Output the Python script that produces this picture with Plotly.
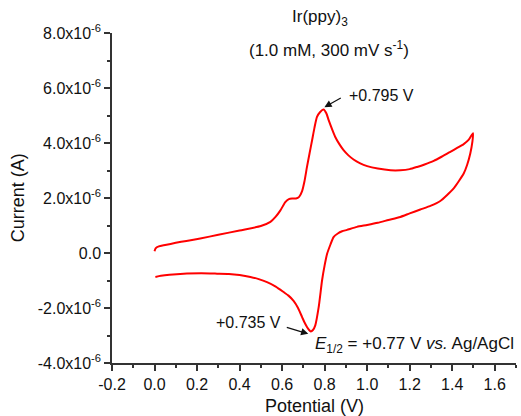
import plotly.graph_objects as go

# Anodic sweep, 0 V -> +1.5 V (potential in V, current in uA)
fwd_potential = [0.0, 0.005, 0.02, 0.05, 0.10, 0.15, 0.215, 0.30, 0.40, 0.50,
                 0.545, 0.57, 0.592, 0.615, 0.632, 0.647, 0.665, 0.68, 0.694, 0.705,
                 0.717, 0.729, 0.741, 0.752, 0.764, 0.778, 0.795, 0.808, 0.819, 0.834,
                 0.85, 0.87, 0.889, 0.912, 0.936, 0.965, 1.0, 1.05, 1.11, 1.156,
                 1.2, 1.235, 1.27, 1.313, 1.35, 1.391, 1.425, 1.454, 1.478, 1.498]
fwd_current = [0.06, 0.17, 0.24, 0.29, 0.37, 0.44, 0.53, 0.66, 0.82, 0.98,
               1.13, 1.32, 1.55, 1.85, 1.96, 1.98, 1.98, 2.04, 2.25, 2.6,
               3.13, 3.62, 4.10, 4.55, 4.95, 5.12, 5.22, 5.08, 4.83, 4.52,
               4.22, 3.95, 3.74, 3.55, 3.40, 3.27, 3.16, 3.07, 3.01, 3.01,
               3.05, 3.13, 3.22, 3.35, 3.50, 3.68, 3.83, 3.96, 4.12, 4.36]

# Cathodic sweep, +1.5 V -> 0 V
rev_potential = [1.495, 1.485, 1.47, 1.454, 1.43, 1.407, 1.375, 1.344, 1.30, 1.25,
                 1.20, 1.156, 1.10, 1.05, 1.0, 0.952, 0.905, 0.882, 0.862, 0.842,
                 0.827, 0.812, 0.80, 0.788, 0.772, 0.756, 0.745, 0.735, 0.727, 0.717,
                 0.705, 0.694, 0.675, 0.654, 0.63, 0.607, 0.57, 0.529, 0.49, 0.451,
                 0.40, 0.35, 0.294, 0.22, 0.137, 0.07, 0.03, 0.004]
rev_current = [4.05, 3.62, 3.2, 2.89, 2.6, 2.35, 2.1, 1.89, 1.72, 1.58,
               1.44, 1.31, 1.20, 1.10, 1.02, 0.95, 0.84, 0.79, 0.71, 0.58,
               0.30, -0.02, -0.45, -0.99, -1.97, -2.63, -2.80, -2.85, -2.80, -2.69,
               -2.52, -2.33, -2.0, -1.74, -1.55, -1.42, -1.22, -1.06, -0.95, -0.87,
               -0.80, -0.76, -0.75, -0.74, -0.75, -0.79, -0.83, -0.87]

x_tickvals = [-0.2, 0.0, 0.2, 0.4, 0.6, 0.8, 1.0, 1.2, 1.4, 1.6]
x_ticktext = ["-0.2", "0.0", "0.2", "0.4", "0.6", "0.8", "1.0", "1.2", "1.4", "1.6"]
x_minorvals = [-0.1, 0.1, 0.3, 0.5, 0.7, 0.9, 1.1, 1.3, 1.5, 1.7]

y_tickvals = [-4e-6, -2e-6, 0.0, 2e-6, 4e-6, 6e-6, 8e-6]
y_ticktext = ["-4.0x10<sup>-6</sup>", "-2.0x10<sup>-6</sup>", "0.0",
              "2.0x10<sup>-6</sup>", "4.0x10<sup>-6</sup>",
              "6.0x10<sup>-6</sup>", "8.0x10<sup>-6</sup>"]
y_minorvals = [-3e-6, -1e-6, 1e-6, 3e-6, 5e-6, 7e-6]

anodic_peak = (0.795, 5.22e-6)
cathodic_peak = (0.735, -2.85e-6)

FONT = "Arial, Liberation Sans, sans-serif"
AXIS_COLOR = "#333333"

potential = fwd_potential + rev_potential
current = [c * 1e-6 for c in fwd_current + rev_current]

fig = go.Figure()
fig.add_trace(go.Scatter(
    x=potential, y=current, mode="lines",
    line=dict(color="#ff0000", width=2, shape="spline", smoothing=0.6),
    showlegend=False, hoverinfo="skip",
))

axis_common = dict(
    showline=True, linecolor=AXIS_COLOR, linewidth=1.5,
    ticks="outside", ticklen=6, tickwidth=1.5, tickcolor=AXIS_COLOR,
    showgrid=False, zeroline=False, mirror=False,
    tickfont=dict(family=FONT, size=16, color="#111111"),
)

fig.update_xaxes(
    range=[-0.2, 1.7], tickmode="array", tickvals=x_tickvals, ticktext=x_ticktext,
    minor=dict(ticks="outside", ticklen=3, tickwidth=1.5, tickcolor=AXIS_COLOR,
               tickvals=x_minorvals, showgrid=False),
    **axis_common,
)
fig.update_yaxes(
    range=[-4e-6, 8e-6], tickmode="array", tickvals=y_tickvals, ticktext=y_ticktext,
    minor=dict(ticks="outside", ticklen=3, tickwidth=1.5, tickcolor=AXIS_COLOR,
               tickvals=y_minorvals, showgrid=False),
    **axis_common,
)

txt = dict(family=FONT, color="#111111")
annotations = [
    # axis titles
    dict(text="Potential (V)", x=0.5, y=-0.129, xref="paper", yref="paper",
         showarrow=False, font=dict(size=18, **txt), xanchor="center", yanchor="middle"),
    dict(text="Current (A)", x=-0.232, y=0.5, xref="paper", yref="paper",
         showarrow=False, textangle=-90, font=dict(size=18, **txt),
         xanchor="center", yanchor="middle"),
    # heading
    dict(text="Ir(ppy)<sub>3</sub>", x=0.516, y=1.045, xref="paper", yref="paper",
         showarrow=False, font=dict(size=17, **txt), xanchor="center", yanchor="middle"),
    dict(text="(1.0 mM, 300 mV s<sup>-1</sup>)", x=0.538, y=0.952, xref="paper", yref="paper",
         showarrow=False, font=dict(size=17, **txt), xanchor="center", yanchor="middle"),
    # peak labels
    dict(text="+0.795 V", x=1.067, y=5.71e-6, xref="x", yref="y",
         showarrow=False, font=dict(size=16, **txt), xanchor="center", yanchor="middle"),
    dict(text="+0.735 V", x=0.443, y=-2.52e-6, xref="x", yref="y",
         showarrow=False, font=dict(size=16, **txt), xanchor="center", yanchor="middle"),
    dict(text="<i>E</i><sub>1/2</sub> = +0.77 V <i>vs.</i> Ag/AgCl", x=1.0, y=-3.33e-6,
         xref="paper", yref="y", showarrow=False, font=dict(size=17, **txt),
         xanchor="right", yanchor="middle"),
    # arrows pointing at the peaks
    dict(text="", x=anodic_peak[0] + 0.004, y=anodic_peak[1] + 0.08e-6,
         ax=0.883, ay=5.67e-6, xref="x", yref="y", axref="x", ayref="y",
         showarrow=True, arrowhead=2, arrowsize=1.2, arrowwidth=1.2,
         arrowcolor="#111111", standoff=0, startstandoff=0),
    dict(text="", x=cathodic_peak[0] - 0.012, y=cathodic_peak[1] - 0.09e-6,
         ax=0.615, ay=-2.69e-6, xref="x", yref="y", axref="x", ayref="y",
         showarrow=True, arrowhead=2, arrowsize=1.2, arrowwidth=1.2,
         arrowcolor="#111111", standoff=0, startstandoff=0),
]

fig.update_layout(
    width=521, height=416,
    margin=dict(l=112, r=5, t=33, b=53),
    paper_bgcolor="white", plot_bgcolor="white",
    font=dict(family=FONT, size=16, color="#111111"),
    annotations=annotations,
)

fig.write_html("out.html")
